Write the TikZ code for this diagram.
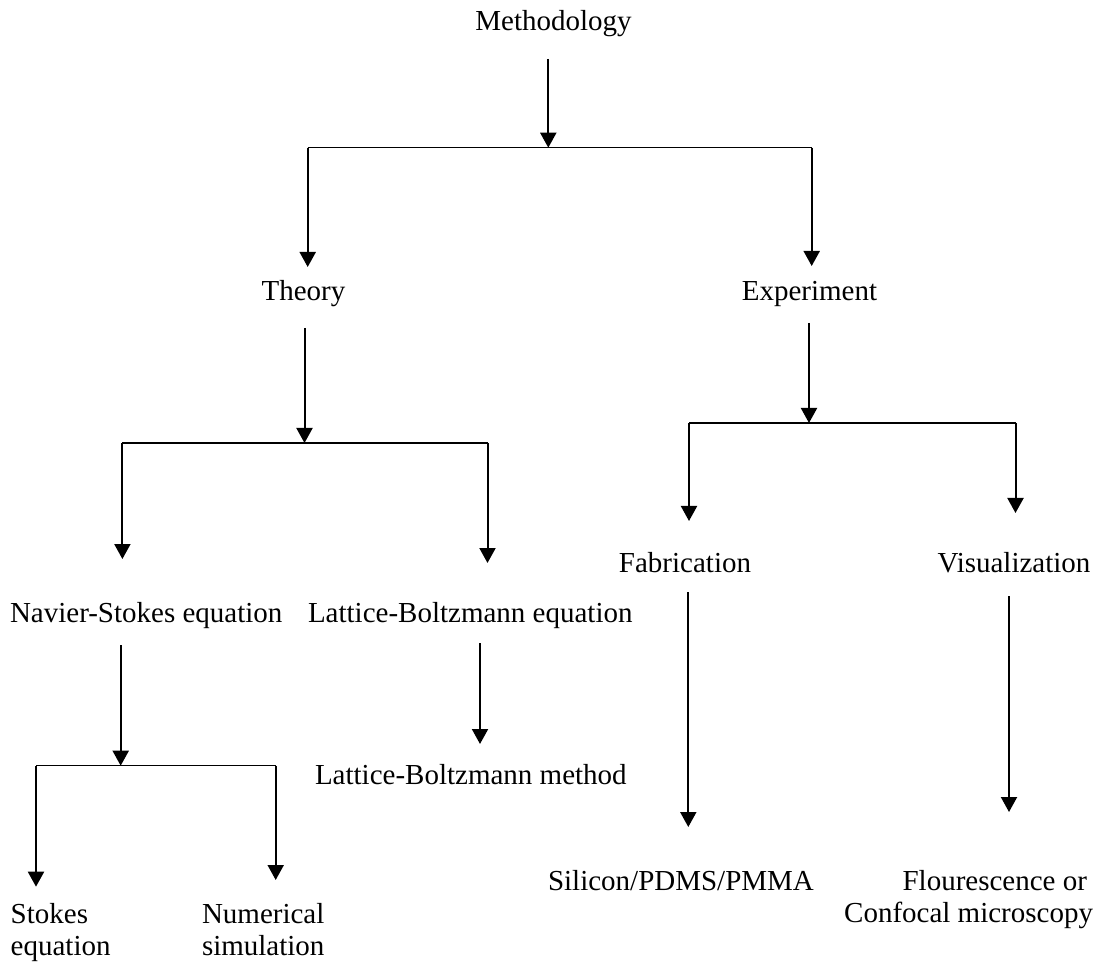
\documentclass[tikz,border=0pt]{standalone}
\usepackage{fontspec}
\setmainfont{Liberation Serif}
\usetikzlibrary{arrows.meta}
\begin{document}
\begin{tikzpicture}[x=1pt,y=-1pt,
  lbl/.style={inner sep=0pt, outer sep=0pt, font=\fontsize{29pt}{32pt}\selectfont},
  conn/.style={line width=2pt, -{Triangle[width=16pt,length=15pt]}},
  barline/.style={line width=1.5pt}]
\useasboundingbox (0,0) rectangle (1101,965);
% text nodes
\node[lbl, anchor=base] (meth) at (553.5,31) {Methodology};
\node[lbl, anchor=base] (theory) at (303.5,301) {Theory};
\node[lbl, anchor=base] (exper) at (809.5,301) {Experiment};
\node[lbl, anchor=base west] (ns) at (10,622) {Navier-Stokes equation};
\node[lbl, anchor=base west] (lbe) at (308,622) {Lattice-Boltzmann equation};
\node[lbl, anchor=base] (fab) at (685,572) {Fabrication};
\node[lbl, anchor=base] (vis) at (1014,572) {Visualization};
\node[lbl, anchor=base west] (lbm) at (315,784) {Lattice-Boltzmann method};
\node[lbl, anchor=base west] (spp) at (548,890) {Silicon/PDMS/PMMA};
\node[lbl, anchor=base west, align=left] (stokes) at (10.7,955) {Stokes\\equation};
\node[lbl, anchor=base west, align=left] (numsim) at (202,955) {Numerical\\simulation};
\node[lbl, anchor=base east, align=right] (flour) at (1093,922) {Flourescence or\kern6pt\\Confocal microscopy};
% coordinates
\coordinate (m1) at (548.3,59);   \coordinate (mj) at (548.3,147.7);
\coordinate (mL) at (307.7,147.7); \coordinate (mR) at (811.7,147.7);
\coordinate (mLt) at (307.7,267);  \coordinate (mRt) at (811.7,266);
\coordinate (t1) at (304.5,328);  \coordinate (tj) at (304.5,443);
\coordinate (tL) at (122.4,443);  \coordinate (tR) at (487.5,443);
\coordinate (tLt) at (122.4,559); \coordinate (tRt) at (487.5,563);
\coordinate (e1) at (809,323);    \coordinate (ej) at (809,423);
\coordinate (eL) at (689,423);    \coordinate (eR) at (1015.5,423);
\coordinate (eLt) at (689,521);   \coordinate (eRt) at (1015.5,513);
\coordinate (f1) at (688.3,592);  \coordinate (f2) at (688.3,827);
\coordinate (v1) at (1009,596);   \coordinate (v2) at (1009,812);
\coordinate (n1) at (120.7,645);  \coordinate (nj) at (120.7,765.7);
\coordinate (nL) at (36,765.7);   \coordinate (nR) at (275.7,765.7);
\coordinate (nLt) at (36,886.7);  \coordinate (nRt) at (275.7,880);
\coordinate (l1) at (480,643);    \coordinate (l2) at (480,744);
% connectors
\draw[conn] (m1) -- (mj);
\draw[barline] (mL) -- (mR);
\draw[conn] (mL) -- (mLt);
\draw[conn] (mR) -- (mRt);
\draw[conn] (t1) -- (tj);
\draw[barline] (tL) -- (tR);
\draw[conn] (tL) -- (tLt);
\draw[conn] (tR) -- (tRt);
\draw[conn] (e1) -- (ej);
\draw[barline] (eL) -- (eR);
\draw[conn] (eL) -- (eLt);
\draw[conn] (eR) -- (eRt);
\draw[conn] (f1) -- (f2);
\draw[conn] (v1) -- (v2);
\draw[conn] (n1) -- (nj);
\draw[barline] (nL) -- (nR);
\draw[conn] (nL) -- (nLt);
\draw[conn] (nR) -- (nRt);
\draw[conn] (l1) -- (l2);
\end{tikzpicture}
\end{document}
